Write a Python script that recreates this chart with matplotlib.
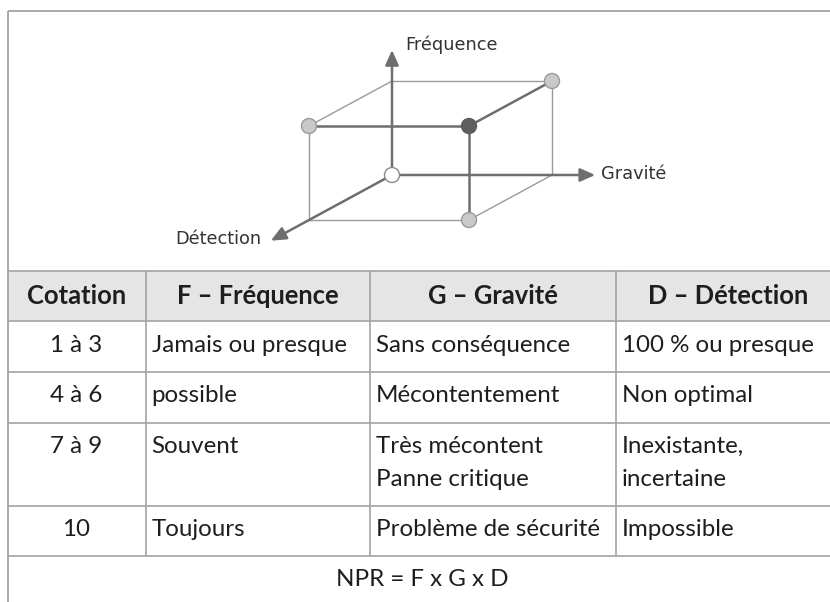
import matplotlib
matplotlib.use("Agg")
import matplotlib.pyplot as plt
from matplotlib.patches import Rectangle, Circle, FancyArrowPatch

# ---------------- data ----------------
headers = ["Cotation", "F – Fréquence", "G – Gravité", "D – Détection"]
cotations = ["1 à 3", "4 à 6", "7 à 9", "10"]
frequence = ["Jamais ou presque", "possible", "Souvent", "Toujours"]
gravite = ["Sans conséquence", "Mécontentement", "Très mécontent\nPanne critique", "Problème de sécurité"]
detection = ["100 % ou presque", "Non optimal", "Inexistante,\nincertaine", "Impossible"]
formula = "NPR = F x G x D"

axis_labels = ["Fréquence", "Gravité", "Détection"]
# cube corners (G, F, D) and their marker style
corner_points = [(0, 0, 0), (0, 1, 1), (1, 1, 1), (1, 1, 0), (1, 0, 1)]
corner_kinds = ["white", "light", "dark", "light", "light"]

# ---------------- layout ----------------
W, H = 830, 602
fig = plt.figure(figsize=(W / 100, H / 100), dpi=100)
ax = fig.add_axes([0, 0, 1, 1])
ax.set_xlim(0, W)
ax.set_ylim(H, 0)
ax.axis("off")

LINE = "#a3a3a3"
TXT = "#1e1e1e"
TFONT = ["Lato", "DejaVu Sans"]

# frame
ax.plot([7.5, W], [11, 11], color=LINE, lw=1.3, solid_capstyle="butt")
ax.plot([7.5, 7.5], [11, H], color=LINE, lw=1.3, solid_capstyle="butt")

# ---------------- cube diagram ----------------
O = (392, 175)
uG = (160, 0)
uF = (0, -94)
uD = (-83, 45)


def P(g, f, d):
    return (O[0] + g * uG[0] + f * uF[0] + d * uD[0],
            O[1] + g * uG[1] + f * uF[1] + d * uD[1])


thin = "#9a9a9a"
thick = "#6e6e6e"
thin_edges = [((0, 1, 0), (1, 1, 0)), ((0, 1, 0), (0, 1, 1)), ((1, 1, 0), (1, 0, 0)),
              ((0, 1, 1), (0, 0, 1)), ((0, 0, 1), (1, 0, 1)), ((1, 0, 1), (1, 0, 0))]
thick_edges = [((0, 1, 1), (1, 1, 1)), ((1, 1, 1), (1, 1, 0)), ((1, 1, 1), (1, 0, 1))]
for a, b in thin_edges:
    pa, pb = P(*a), P(*b)
    ax.plot([pa[0], pb[0]], [pa[1], pb[1]], color=thin, lw=1.0, zorder=2)
for a, b in thick_edges:
    pa, pb = P(*a), P(*b)
    ax.plot([pa[0], pb[0]], [pa[1], pb[1]], color=thick, lw=1.8, zorder=3)

axis_ends = [(0, 1.33, 0), (1.27, 0, 0), (0, 0, 1.46)]
for end in axis_ends:
    pe = P(*end)
    arr = FancyArrowPatch(O, pe, arrowstyle="-|>,head_length=9,head_width=4",
                          color=thick, lw=1.8, mutation_scale=1, zorder=3,
                          shrinkA=0, shrinkB=0)
    ax.add_patch(arr)

fills = {"white": "#ffffff", "light": "#c9c9c9", "dark": "#5e5e5e"}
edges = {"white": "#8a8a8a", "light": "#9a9a9a", "dark": "#5e5e5e"}
for pt, kind in zip(corner_points, corner_kinds):
    c = P(*pt)
    ax.add_patch(Circle(c, 7.5, facecolor=fills[kind], edgecolor=edges[kind], lw=1.0, zorder=5))

DFONT = ["DejaVu Sans"]
DFS = 12.8
pf = P(*axis_ends[0])
ax.text(pf[0] + 13, pf[1] - 5, axis_labels[0], ha="left", va="center", fontsize=DFS,
        color="#333333", family=DFONT)
pg = P(*axis_ends[1])
ax.text(pg[0] + 6, pg[1] - 1, axis_labels[1], ha="left", va="center", fontsize=DFS,
        color="#333333", family=DFONT)
pd = P(*axis_ends[2])
ax.text(pd[0] - 9, pd[1] - 2, axis_labels[2], ha="right", va="center", fontsize=DFS,
        color="#333333", family=DFONT)

# ---------------- table ----------------
col_x = [7.5, 145.5, 370, 615.5, 840]
row_y = [270.5, 321, 372, 422.5, 505.5, 556]

ax.add_patch(Rectangle((7.5, row_y[0]), W - 7.5, row_y[1] - row_y[0],
                       facecolor="#e5e5e5", edgecolor="none", zorder=0))
for y in row_y:
    ax.plot([7.5, W], [y, y], color=LINE, lw=1.2, solid_capstyle="butt", zorder=1)
for x in col_x[1:4]:
    ax.plot([x, x], [row_y[0], row_y[-1]], color=LINE, lw=1.2, solid_capstyle="butt", zorder=1)

FS = 17.4
HFS = 18.4
for j, h in enumerate(headers):
    cx = (col_x[j] + col_x[j + 1]) / 2
    ax.text(cx, (row_y[0] + row_y[1]) / 2, h, ha="center", va="center", fontsize=HFS,
            fontweight="bold", color=TXT, family=TFONT)

columns = [frequence, gravite, detection]
for i in range(len(cotations)):
    top, bot = row_y[i + 1], row_y[i + 2]
    yc = top + 24
    ax.text((col_x[0] + col_x[1]) / 2, yc, cotations[i], ha="center", va="center",
            fontsize=FS, color=TXT, family=TFONT)
    for j, col in enumerate(columns):
        lines = col[i].split("\n")
        for k, ln in enumerate(lines):
            ax.text(col_x[j + 1] + 6, yc + k * 33, ln, ha="left", va="center",
                    fontsize=FS, color=TXT, family=TFONT)

ax.text(422, 580, formula, ha="center", va="center", fontsize=FS, color=TXT, family=TFONT)

fig.savefig("out.png", dpi=100)
